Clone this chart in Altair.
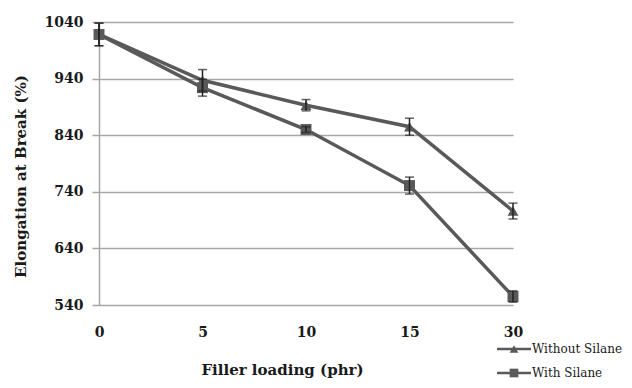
import altair as alt
import pandas as pd

# ---- data ----
loading = ["0", "5", "10", "15", "30"]
series_names = ["Without Silane", "With Silane"]
without_silane = [1018, 937, 893, 855, 706]
with_silane = [1018, 924, 850, 751, 555]
without_err = [20, 19, 10, 15, 14]
with_err = [20, 15, 5, 15, 10]
y_ticks = [540, 640, 740, 840, 940, 1040]

rows = []
for i, x in enumerate(loading):
    rows.append({"loading": x, "series": series_names[0], "value": without_silane[i],
                 "lo": without_silane[i] - without_err[i], "hi": without_silane[i] + without_err[i]})
    rows.append({"loading": x, "series": series_names[1], "value": with_silane[i],
                 "lo": with_silane[i] - with_err[i], "hi": with_silane[i] + with_err[i]})
df = pd.DataFrame(rows)
legend_df = pd.DataFrame({"series": series_names})

LINE = "#595959"
GRID = "#a6a6a6"
FONT = "DejaVu Serif"

xenc = alt.X("loading:N", sort=loading,
             scale=alt.Scale(type="point", padding=0),
             axis=alt.Axis(title="Filler loading (phr)", labelAngle=0, grid=False,
                           domain=False, ticks=False, labelPadding=20,
                           labelFont=FONT, labelFontWeight="bold", labelFontSize=14,
                           labelColor="#1a1a1a",
                           titleFont=FONT, titleFontWeight="bold", titleFontSize=15,
                           titleColor="#1a1a1a", titleX=183, titleY=64,
                           titleBaseline="middle", titleAlign="center"))
yscale = alt.Scale(domain=[540, 1040], nice=False, zero=False)
yenc = alt.Y("value:Q", scale=yscale,
             axis=alt.Axis(title="Elongation at Break (%)", values=y_ticks, format="d",
                           grid=True, gridColor=GRID, gridWidth=1.5,
                           domain=True, domainColor=GRID, domainWidth=1.5,
                           ticks=True, tickColor=GRID, tickSize=7, tickWidth=1.5,
                           labelPadding=9, labelFont=FONT, labelFontWeight="bold",
                           labelFontSize=14, labelColor="#1a1a1a",
                           titleFont=FONT, titleFontWeight="bold", titleFontSize=15,
                           titleColor="#1a1a1a", titleX=-79, titleY=154,
                           titleAngle=-90, titleBaseline="middle", titleAlign="center"))

shape_scale = alt.Scale(domain=series_names, range=["triangle-up", "square"])

base = alt.Chart(df)
lines = base.mark_line(color=LINE, strokeWidth=3.5).encode(
    x=xenc, y=yenc, detail="series:N")
points = base.mark_point(filled=True, color=LINE, opacity=1, size=120).encode(
    x=xenc, y="value:Q",
    shape=alt.Shape("series:N", scale=shape_scale, legend=None))
err = base.mark_rule(color="#222222", strokeWidth=1.5).encode(
    x=xenc, y="lo:Q", y2="hi:Q")
cap_hi = base.mark_tick(color="#222222", thickness=1.5, size=9).encode(x=xenc, y="hi:Q")
cap_lo = base.mark_tick(color="#222222", thickness=1.5, size=9).encode(x=xenc, y="lo:Q")

legend_layers = []
legend_y = [327, 351]
for i, name in enumerate(series_names):
    lb = alt.Chart(legend_df).transform_filter(alt.datum.series == name)
    legend_layers.append(lb.mark_rule(color=LINE, strokeWidth=2.5).encode(
        x=alt.value(398), x2=alt.value(432), y=alt.value(legend_y[i])))
    legend_layers.append(lb.mark_point(filled=True, color=LINE, opacity=1, size=75).encode(
        x=alt.value(415), y=alt.value(legend_y[i]),
        shape=alt.Shape("series:N", scale=shape_scale, legend=None)))
    legend_layers.append(lb.mark_text(align="left", baseline="middle", font=FONT,
                                      fontSize=12, color="#1a1a1a").encode(
        x=alt.value(433), y=alt.value(legend_y[i]), text="series:N"))

chart = alt.layer(lines, points, err, cap_hi, cap_lo, *legend_layers).properties(
    width=414, height=283,
    autosize=alt.AutoSizeParams(type="none"),
    padding={"left": 91, "top": 14, "right": 110, "bottom": 78},
    background="white",
).configure_view(stroke=None)

chart.save("out.html", embed_options={"renderer": "svg", "actions": False})
